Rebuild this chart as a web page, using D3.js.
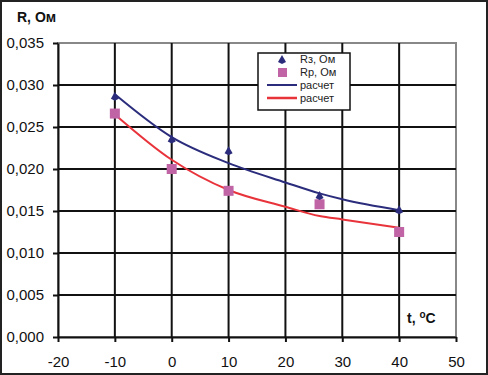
<!DOCTYPE html>
<html>
<head>
<meta charset="utf-8">
<script src="https://cdn.jsdelivr.net/npm/d3@7"></script>
<style>
    body { margin: 0; background: #fff; }
    svg { display: block; font-family: "Liberation Sans", Arial, sans-serif; }
</style>
</head>
<body>
<div id="chart"></div>
<script>
// measured points
var tMeas = [-10, 0, 10, 26, 40];
var rzMeas = [0.0286, 0.0235, 0.0221, 0.0168, 0.0151];
var rpMeas = [0.0266, 0.0200, 0.0174, 0.0158, 0.0125];

// calculated curves
var tCalc = [-10, 0, 10, 20, 26, 30, 40];
var rzCalc = [0.0289, 0.0238, 0.0207, 0.0184, 0.0171, 0.0164, 0.0151];
var rpCalc = [0.0265, 0.0211, 0.0175, 0.0155, 0.0144, 0.0140, 0.0130];

var xTicks = [-20, -10, 0, 10, 20, 30, 40, 50];
var yTicks = [0, 0.005, 0.01, 0.015, 0.02, 0.025, 0.03, 0.035];
var legendLabels = ['Rз, Ом', 'Rр, Ом', 'расчет', 'расчет'];

var width = 488, height = 375;
var margin = { left: 58, right: 32, top: 43, bottom: 38 };
var plotW = width - margin.left - margin.right;
var plotH = height - margin.top - margin.bottom;

var blue = '#2b2d7c', pink = '#c164a6', red = '#e8333b';

var svg = d3.select('#chart').append('svg')
    .attr('width', width)
    .attr('height', height);

svg.append('rect')
    .attr('x', 1).attr('y', 1)
    .attr('width', width - 2).attr('height', height - 2)
    .attr('fill', '#fff').attr('stroke', '#222').attr('stroke-width', 2);

var g = svg.append('g')
    .attr('transform', 'translate(' + margin.left + ',' + margin.top + ')');

var x = d3.scaleLinear().domain([-20, 50]).range([0, plotW]);
var y = d3.scaleLinear().domain([0, 0.035]).range([plotH, 0]);

// plot border (grey)
g.append('rect')
    .attr('width', plotW).attr('height', plotH)
    .attr('fill', 'none').attr('stroke', '#888').attr('stroke-width', 2);

// grid
g.selectAll('.vgrid').data(xTicks.slice(1, -1)).enter().append('line')
    .attr('x1', function (d) { return x(d); }).attr('x2', function (d) { return x(d); })
    .attr('y1', 0).attr('y2', plotH)
    .attr('stroke', '#111').attr('stroke-width', 2);
g.selectAll('.hgrid').data(yTicks.slice(1, -1)).enter().append('line')
    .attr('y1', function (d) { return y(d); }).attr('y2', function (d) { return y(d); })
    .attr('x1', 0).attr('x2', plotW)
    .attr('stroke', '#111').attr('stroke-width', 2);

var fmt = function (d) { return d3.format('.3f')(d).replace('.', ','); };

var xAxis = g.append('g')
    .attr('transform', 'translate(0,' + plotH + ')')
    .call(d3.axisBottom(x).tickValues(xTicks).tickFormat(function (d) { return String(d); })
        .tickSize(5).tickSizeOuter(0).tickPadding(14));
var yAxis = g.append('g')
    .call(d3.axisLeft(y).tickValues(yTicks).tickFormat(fmt).tickSize(5).tickSizeOuter(0).tickPadding(9));

[xAxis, yAxis].forEach(function (a) {
    a.select('.domain').attr('stroke', '#111').attr('stroke-width', 2);
    a.selectAll('.tick line').attr('stroke', '#111').attr('stroke-width', 2);
    a.selectAll('.tick text').attr('fill', '#111')
        .style('font-size', '15px').style('font-family', '"Liberation Sans", Arial, sans-serif');
});

// calculated lines
var line = function (ys) {
    return d3.line()
        .x(function (d, i) { return x(tCalc[i]); })
        .y(function (d) { return y(d); })
        .curve(d3.curveMonotoneX)(ys);
};
g.append('path').attr('d', line(rpCalc))
    .attr('fill', 'none').attr('stroke', red).attr('stroke-width', 2);
g.append('path').attr('d', line(rzCalc))
    .attr('fill', 'none').attr('stroke', blue).attr('stroke-width', 2);

// measured markers
var diamond = 'M0,-5 L4,2 L0,4 L-4,2 Z';
g.selectAll('.rp').data(rpMeas).enter().append('rect')
    .attr('x', function (d, i) { return x(tMeas[i]) - 5; })
    .attr('y', function (d) { return y(d) - 5; })
    .attr('width', 10).attr('height', 10)
    .attr('fill', pink);
g.selectAll('.rz').data(rzMeas).enter().append('path')
    .attr('d', diamond)
    .attr('transform', function (d, i) { return 'translate(' + x(tMeas[i]) + ',' + y(d) + ')'; })
    .attr('fill', blue);

// legend
var lg = svg.append('g').attr('transform', 'translate(258,53)');
lg.append('rect').attr('width', 92).attr('height', 57)
    .attr('fill', '#fff').attr('stroke', '#111').attr('stroke-width', 1.5);
var rowY = [6, 19, 32, 45];
lg.append('path').attr('d', diamond).attr('transform', 'translate(24,' + (rowY[0] + 1) + ')').attr('fill', blue);
lg.append('rect').attr('x', 20).attr('y', rowY[1] - 4).attr('width', 9).attr('height', 9).attr('fill', pink);
lg.append('line').attr('x1', 9).attr('x2', 39).attr('y1', rowY[2]).attr('y2', rowY[2]).attr('stroke', blue).attr('stroke-width', 2);
lg.append('line').attr('x1', 9).attr('x2', 39).attr('y1', rowY[3]).attr('y2', rowY[3]).attr('stroke', red).attr('stroke-width', 2.5);
lg.selectAll('.lt').data(legendLabels).enter().append('text')
    .attr('x', 42).attr('y', function (d, i) { return rowY[i] + 4; })
    .style('font-size', '11px').attr('fill', '#222')
    .text(function (d) { return d; });

// axis titles
svg.append('text').attr('x', 17).attr('y', 22)
    .style('font-size', '14px').style('font-weight', 'bold').attr('fill', '#111')
    .text('R, Ом');
var tt = svg.append('text').attr('x', 407).attr('y', 323)
    .style('font-size', '14px').style('font-weight', 'bold').attr('fill', '#111');
tt.append('tspan').text('t, ');
tt.append('tspan').attr('dy', -5).style('font-size', '10px').text('o');
tt.append('tspan').attr('dy', 5).text('C');
</script>
</body>
</html>
